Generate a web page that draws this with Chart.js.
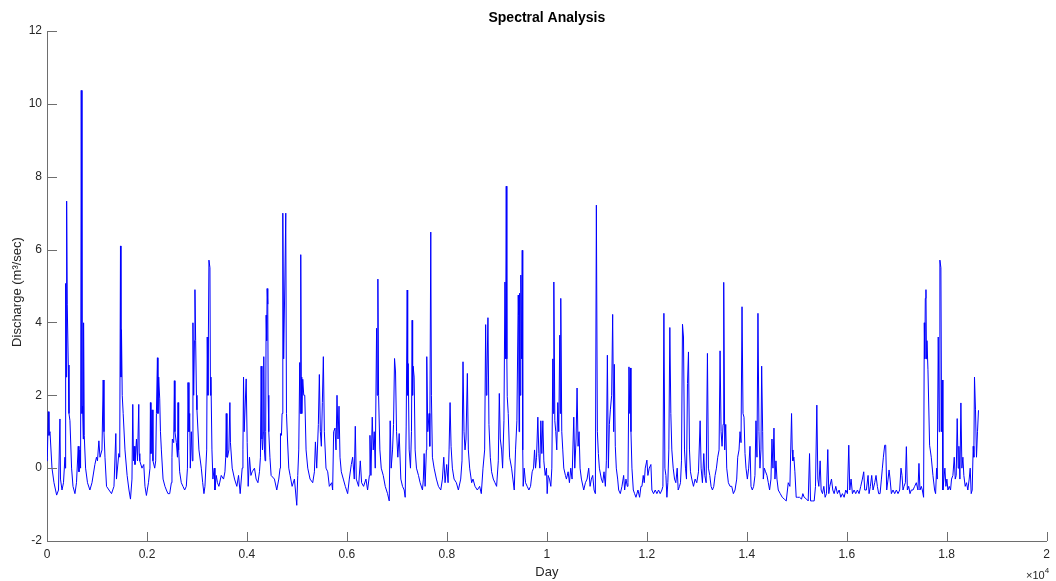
<!DOCTYPE html>
<html>
<head>
<meta charset="utf-8">
<script src="https://cdn.jsdelivr.net/npm/chart.js@4/dist/chart.umd.min.js"></script>
<style>
html,body{margin:0;padding:0;background:#fff;}
#wrap{width:1056px;height:581px;position:relative;}
</style>
</head>
<body>
<div id="wrap"><canvas id="c"></canvas></div>
<script>
const days = [
0,7,27,40,60,100,140,193,230,259,
270,300,330,359,366,373,385,393,405,426,
440,459,492,520,559,590,625,640,659,672,
685,700,712,725,732,745,772,810,858,900,
958,990,1010,1038,1060,1100,1124,1140,1160,1191,
1240,1291,1340,1377,1390,1437,1455,1470,1480,1490,
1505,1524,1560,1603,1640,1670,1700,1716,1730,1743,
1760,1790,1810,1836,1845,1856,1900,1936,1960,1989,
2030,2060,2069,2080,2102,2120,2155,2175,2189,2209,
2220,2235,2255,2270,2288,2322,2360,2388,2420,2455,
2488,2500,2508,2535,2548,2560,2588,2610,2621,2634,
2654,2687,2720,2754,2787,2810,2821,2840,2855,2867,
2887,2907,2920,2935,2950,2960,2974,2990,3000,3040,
3087,3115,3140,3160,3195,3206,3220,3240,3260,3270,
3280,3300,3319,3346,3360,3386,3410,3439,3486,3532,
3560,3575,3586,3600,3612,3639,3659,3670,3679,3705,
3752,3798,3832,3865,3905,3920,3932,3945,3958,3985,
4005,4025,4051,4080,4105,4151,4184,4220,4251,4270,
4284,4300,4311,4330,4337,4350,4364,4375,4384,4395,
4404,4417,4425,4437,4460,4484,4550,4597,4637,4663,
4671,4691,4703,4718,4735,4757,4777,4791,4811,4837,
4864,4904,4950,4970,4997,5017,5037,5057,5067,5077,
5087,5097,5117,5137,5157,5183,5217,5263,5316,5350,
5370,5396,5429,5449,5469,5489,5509,5529,5549,5582,
5616,5649,5696,5715,5735,5762,5782,5802,5822,5842,
5862,5888,5928,5968,6015,6048,6088,6115,6148,6168,
6188,6234,6268,6294,6334,6381,6414,6450,6461,6481,
6507,6527,6547,6567,6594,6607,6620,6634,6660,6687,
6727,6767,6813,6847,6866,6886,6913,6933,6953,6973,
6993,7019,7046,7079,7113,7146,7166,7186,7206,7216,
7226,7246,7272,7292,7305,7315,7325,7345,7365,7392,
7432,7465,7512,7530,7545,7565,7590,7598,7618,7645,
7658,7678,7691,7711,7745,7791,7831,7878,7911,7938,
7964,7997,8024,8044,8064,8084,8110,8144,8190,8230,
8277,8303,8323,8343,8363,8383,8410,8430,8456,8496,
8523,8563,8609,8656,8689,8723,8756,8776,8790,8802,
8822,8842,8869,8895,8929,8962,8995,9029,9049,9069,
9095,9115,9142,9162,9175,9188,9200,9208,9228,9255,
9295,9321,9348,9374,9401,9428,9435,9445,9455,9468,
9480,9495,9508,9518,9527,9547,9574,9607,9641,9674,
9707,9734,9754,9774,9794,9820,9840,9860,9880,9900,
9920,9940,9967,9993,10007,10026,10053,10080,10100,10120,
10130,10140,10160,10179,10199,10219,10239,10259,10270,10279,
10299,10319,10339,10372,10392,10426,10452,10479,10505,10539,
10559,10585,10605,10625,10645,10665,10692,10738,10772,10805,
10838,10865,10891,10918,10945,10971,10991,11011,11031,11051,
11091,11118,11144,11171,11191,11211,11231,11251,11271,11297,
11317,11337,11350,11370,11390,11417,11437,11470,11503,11537,
11557,11583,11610,11623,11643,11660,11670,11683,11703,11730,
11756,11783,11823,11856,11883,11903,11929,11949,11969,12002,
12022,12049,12082,12102,12135,12169,12202,12235,12268,12302,
12322,12342,12362,12382,12402,12421,12441,12461,12481,12501,
12528,12555,12581,12608,12628,12654,12674,12694,12714,12734,
12754,12774,12794,12814,12834,12854,12874,12900,12934,12967,
13000,13034,13067,13087,13113,13140,13160,13187,13213,13233,
13260,13286,13313,13340,13366,13393,13419,13446,13466,13486,
13506,13526,13539,13559,13579,13599,13632,13666,13699,13732,
13765,13799,13819,13845,13865,13885,13905,13925,13945,13965,
13985,14012,14038,14065,14085,14111,14138,14164,14184,14204,
14224,14244,14264,14284,14298,14318,14331,14351,14377,14404,
14431,14457,14484,14504,14524,14544,14564,14584,14604,14630,
14670,14710,14750,14790,14830,14863,14896,14910,14923,14943,
14963,14989,15016,15056,15096,15122,15149,15196,15229,15256,
15276,15315,15349,15375,15402,15422,15442,15468,15488,15515,
15542,15568,15595,15621,15641,15661,15695,15721,15748,15781,
15814,15848,15881,15914,15948,15981,16014,16041,16061,16087,
16114,16147,16180,16214,16247,16280,16313,16340,16360,16393,
16427,16447,16473,16500,16526,16560,16586,16613,16639,16667,
16694,16713,16733,16760,16780,16800,16827,16847,16867,16893,
16926,16960,16993,17026,17059,17086,17106,17126,17146,17173,
17193,17213,17239,17266,17292,17326,17359,17392,17425,17445,
17465,17492,17512,17538,17552,17562,17572,17585,17595,17605,
17625,17658,17691,17725,17758,17778,17798,17811,17831,17851,
17864,17884,17898,17911,17924,17944,17964,17984,18004,18024,
18051,18077,18097,18124,18151,18171,18190,18210,18230,18244,
18264,18284,18304,18324,18343,18370,18397,18423,18450,18470,
18490,18510,18530,18543,18556,18576,18596,18616,18636
];

const discharge = [
0.2,0.3,1.55,0.9,1.0,0.0,-0.4,-0.74,-0.6,1.35,
-0.3,-0.6,-0.4,0.3,0.0,5.07,2.5,7.33,4.5,2.83,
1.5,1.3,0.0,-0.5,-0.7,-0.4,0.6,-0.1,0.5,0.0,
10.37,1.5,1.7,0.8,3.99,0.9,0.0,-0.4,-0.6,-0.4,
0.1,0.3,0.2,0.75,0.3,0.5,2.42,1.0,0.3,-0.5,
-0.6,-0.7,-0.5,0.95,-0.3,0.4,0.3,6.1,2.5,3.8,
2.0,1.5,0.5,-0.2,-0.6,-0.85,-0.3,1.75,0.2,0.6,
0.1,0.8,0.2,1.75,0.4,0.2,0.0,0.1,-0.5,-0.75,
-0.4,0.0,1.8,0.4,1.6,0.2,0.0,0.2,1.5,3.03,
1.5,2.5,1.9,1.0,0.5,-0.3,-0.5,-0.6,-0.7,-0.7,
-0.4,0.3,0.8,0.7,2.4,1.0,0.7,0.3,1.8,0.5,
-0.1,-0.4,-0.5,-0.6,-0.5,0.0,2.35,1.0,1.5,0.0,
1.0,0.2,3.99,2.0,3.5,4.9,3.5,2.0,1.6,0.5,
0.0,-0.4,-0.7,-0.5,0.5,3.6,2.0,5.71,5.5,2.0,
2.5,0.5,-0.3,0.0,-0.6,-0.2,-0.4,-0.5,-0.2,-0.3,
-0.1,0.3,1.5,0.3,0.3,0.5,1.8,0.7,0.7,0.0,
-0.3,-0.5,-0.2,-0.7,0.0,0.5,2.5,1.0,1.0,2.45,
0.7,-0.5,0.3,-0.2,-0.1,0.0,-0.3,-0.4,-0.1,0.3,
2.8,0.8,0.5,1.0,3.06,0.5,0.2,1.0,4.2,3.5,
4.93,4.5,2.0,1.0,0.3,-0.2,-0.3,-0.6,-0.3,0.0,
0.95,0.9,1.5,7.0,3.0,5.0,7.0,1.5,0.8,0.0,
-0.2,-0.5,-0.3,-0.6,-1.02,-0.2,0.5,2.9,1.5,5.86,
2.5,1.5,2.44,2.0,2.0,0.5,0.0,-0.3,-0.4,-0.1,
0.72,0.0,1.2,2.57,1.0,0.6,1.8,3.06,1.0,0.0,
-0.1,-0.5,-0.4,-0.6,1.0,1.1,0.5,2.0,0.8,1.7,
0.3,-0.1,-0.3,-0.5,-0.7,-0.3,0.1,0.3,-0.3,1.15,
-0.3,-0.5,0.2,-0.4,-0.5,-0.3,-0.6,-0.2,0.9,-0.2,
1.4,0.5,1.0,0.0,3.84,2.0,5.19,2.0,0.5,0.0,
-0.2,-0.5,-0.7,-0.9,1.3,0.0,0.5,1.2,3.01,2.64,
1.0,0.3,0.95,-0.3,-0.5,-0.6,-0.8,1.13,4.89,2.0,
2.87,0.5,0.0,1.0,4.06,2.0,2.8,2.5,0.5,0.0,
-0.2,-0.4,-0.6,-0.3,0.4,-0.5,0.5,3.06,1.0,1.5,
0.6,6.48,2.0,0.3,0.0,-0.3,-0.5,-0.6,-0.3,0.3,
-0.4,0.1,-0.4,0.5,1.8,0.6,0.0,-0.3,-0.4,-0.6,
-0.3,0.2,2.92,1.0,0.5,0.8,2.6,0.5,0.0,-0.4,
-0.3,-0.5,-0.6,-0.5,-0.7,0.0,0.5,3.94,2.0,2.5,
4.13,1.2,0.3,-0.1,-0.3,-0.4,-0.5,0.2,2.05,0.8,
0.5,0.0,1.3,5.11,3.0,7.74,3.0,1.96,1.5,0.3,
0.0,-0.3,-0.6,0.5,1.3,4.75,4.2,1.0,4.8,2.0,
5.3,3.0,5.98,0.5,-0.5,0.0,-0.4,-0.5,-0.6,-0.5,
-0.1,0.0,0.5,0.0,0.3,1.4,0.4,0.0,1.3,0.4,
1.3,0.2,-0.2,0.0,-0.7,-0.2,-0.3,-0.5,0.0,3.0,
1.5,5.11,1.3,1.0,0.5,1.8,1.0,3.65,1.5,4.66,
1.0,0.5,0.0,-0.2,-0.3,-0.1,-0.4,0.0,-0.3,1.4,
0.0,0.8,2.2,0.6,1.0,0.0,-0.3,-0.6,-0.4,-0.3,
0.0,-0.5,-0.3,-0.2,-0.6,-0.7,7.22,1.0,0.4,0.0,
-0.3,-0.4,-0.1,-0.5,0.2,3.1,0.0,1.2,1.6,2.0,
4.22,1.0,2.85,0.6,0.0,-0.3,-0.6,-0.7,-0.5,-0.2,
-0.6,-0.3,-0.5,-0.4,2.78,1.5,2.75,1.0,0.0,-0.6,
-0.7,-0.8,-0.6,-0.8,-0.5,-0.5,-0.2,-0.4,0.0,0.22,
-0.2,0.0,0.1,-0.6,-0.7,-0.6,-0.7,-0.6,-0.7,-0.6,
-0.5,4.25,0.0,-0.2,-0.8,-0.4,0.5,3.86,1.5,0.5,
0.0,-0.3,-0.4,0.0,-0.6,-0.5,-0.4,0.2,3.95,3.6,
0.5,0.0,-0.3,2.32,3.19,0.5,-0.1,-0.3,-0.5,-0.3,
-0.4,-0.1,1.3,0.0,-0.4,0.4,-0.2,-0.4,3.15,0.0,
-0.2,-0.5,-0.6,-0.5,-0.2,0.0,0.3,0.5,3.22,1.0,
0.6,1.2,5.1,0.5,1.2,0.0,-0.4,-0.5,-0.5,-0.7,
-0.6,-0.3,0.3,0.5,1.0,0.7,4.43,1.5,1.4,0.4,
0.0,-0.3,0.0,0.6,-0.5,-0.6,-0.5,-0.2,1.3,0.3,
4.25,1.0,0.0,0.5,2.8,1.0,-0.3,0.0,-0.1,-0.2,
-0.4,-0.6,-0.3,0.8,0.0,1.1,-0.3,0.2,-0.3,-0.6,
-0.7,-0.8,-0.85,-0.9,-0.4,-0.5,1.5,0.5,0.2,0.3,
-0.1,-0.8,-0.8,-0.8,-0.85,-0.7,-0.8,-0.85,-0.9,0.4,
-0.9,-0.9,-0.9,-0.5,1.73,-0.3,-0.5,0.2,-0.6,-0.7,
-0.5,-0.8,-0.7,0.51,-0.7,-0.5,-0.3,-0.6,-0.7,-0.5,
-0.7,-0.6,-0.8,-0.7,-0.8,-0.6,-0.7,0.63,-0.6,-0.3,
-0.7,-0.6,-0.7,-0.6,-0.7,-0.5,-0.3,-0.1,-0.6,-0.6,
-0.2,-0.7,-0.5,-0.2,-0.6,-0.4,-0.2,-0.5,-0.7,-0.7,
-0.3,0.0,0.3,0.63,0.63,-0.6,-0.3,-0.05,-0.3,-0.7,
-0.6,-0.7,-0.6,-0.7,-0.6,0.0,-0.2,-0.6,-0.5,-0.4,
0.59,-0.6,-0.5,-0.7,-0.6,-0.6,-0.5,-0.4,-0.6,0.13,
-0.6,-0.5,-0.6,-0.8,3.99,3.0,4.66,4.9,3.0,3.5,
2.7,0.63,0.3,-0.2,-0.6,-0.7,0.0,-0.3,3.6,1.0,
5.71,5.5,1.0,2.42,-0.6,-0.3,0.0,-0.5,-0.3,-0.6,
-0.5,-0.6,-0.3,-0.2,0.3,-0.3,-0.2,1.36,0.0,0.6,
-0.3,1.79,0.0,0.3,-0.2,-0.5,-0.4,-0.6,-0.3,0.0,
-0.7,-0.6,0.6,0.3,2.5,1.6,0.3,1.0,1.59
];

const xTickLabels = ['0','0.2','0.4','0.6','0.8','1','1.2','1.4','1.6','1.8','2'];
const yTickLabels = ['-2','0','2','4','6','8','10','12'];
const chartTitle = 'Spectral Analysis';
const xAxisTitle = 'Day';
const yAxisTitle = 'Discharge (m\u00B3/sec)';
const xExponentBase = '\u00D710';
const xExponentPower = '4';

const FONT = "'Liberation Sans', Arial, Helvetica, sans-serif";
const TEXT_COLOR = '#262626';
const AXIS_COLOR = '#6e6e6e';

const n = Math.min(days.length, discharge.length);
const points = [];
for (let i = 0; i < n; i++) points.push({x: days[i], y: discharge[i]});

const axisDecor = {
  id: 'axisDecor',
  afterDraw(chart) {
    const {ctx, chartArea, scales} = chart;
    const xs = scales.x, ys = scales.y;
    ctx.save();
    // inward tick marks
    ctx.strokeStyle = AXIS_COLOR;
    ctx.lineWidth = 1;
    ctx.beginPath();
    xs.ticks.forEach(t => {
      const px = Math.round(xs.getPixelForValue(t.value)) + 0.5;
      ctx.moveTo(px, chartArea.bottom);
      ctx.lineTo(px, chartArea.bottom - 9);
    });
    ys.ticks.forEach(t => {
      const py = Math.round(ys.getPixelForValue(t.value)) + 0.5;
      ctx.moveTo(chartArea.left, py);
      ctx.lineTo(chartArea.left + 10, py);
    });
    ctx.stroke();
    // title
    ctx.fillStyle = '#000';
    ctx.font = 'bold 14px ' + FONT;
    ctx.textAlign = 'center';
    ctx.textBaseline = 'middle';
    ctx.fillText(chartTitle, (chartArea.left + chartArea.right) / 2, 18);
    // y axis title
    ctx.save();
    ctx.fillStyle = TEXT_COLOR;
    ctx.font = '13px ' + FONT;
    ctx.translate(17, 292);
    ctx.rotate(-Math.PI / 2);
    ctx.textAlign = 'center';
    ctx.textBaseline = 'middle';
    ctx.fillText(yAxisTitle, 0, 0);
    ctx.restore();
    // exponent label
    ctx.fillStyle = TEXT_COLOR;
    ctx.font = '11px ' + FONT;
    ctx.textAlign = 'right';
    ctx.textBaseline = 'alphabetic';
    ctx.fillText(xExponentBase, chartArea.right - 2, 579);
    ctx.font = '8px ' + FONT;
    ctx.textAlign = 'left';
    ctx.fillText(xExponentPower, chartArea.right - 2, 573);
    ctx.restore();
  }
};

new Chart(document.getElementById('c'), {
  type: 'line',
  data: {
    datasets: [{
      data: points,
      borderColor: '#0000ff',
      borderWidth: 1,
      pointRadius: 0,
      pointHoverRadius: 0,
      fill: false,
      tension: 0
    }]
  },
  options: {
    responsive: true,
    maintainAspectRatio: false,
    devicePixelRatio: 1,
    animation: false,
    events: [],
    layout: {padding: {left: 0, right: 7, top: 31, bottom: 0}},
    plugins: {
      legend: {display: false},
      tooltip: {enabled: false},
      title: {display: false}
    },
    scales: {
      x: {
        type: 'linear',
        min: 0,
        max: 20000,
        afterFit: s => { s.height = 40; },
        grid: {display: false, drawTicks: false},
        border: {display: true, color: AXIS_COLOR, width: 1},
        ticks: {
          stepSize: 2000,
          autoSkip: false,
          maxRotation: 0,
          padding: 6,
          color: TEXT_COLOR,
          font: {family: FONT, size: 12},
          callback: (v, i) => xTickLabels[i]
        },
        title: {
          display: true,
          text: xAxisTitle,
          color: TEXT_COLOR,
          font: {family: FONT, size: 13},
          padding: {top: 0, bottom: 1}
        }
      },
      y: {
        type: 'linear',
        min: -2,
        max: 12,
        afterFit: s => { s.width = 47; },
        grid: {display: false, drawTicks: false},
        border: {display: true, color: AXIS_COLOR, width: 1},
        ticks: {
          stepSize: 2,
          autoSkip: false,
          padding: 5,
          color: TEXT_COLOR,
          font: {family: FONT, size: 12},
          callback: (v, i) => yTickLabels[i]
        },
        title: {display: false}
      }
    }
  },
  plugins: [axisDecor]
});
</script>
</body>
</html>
